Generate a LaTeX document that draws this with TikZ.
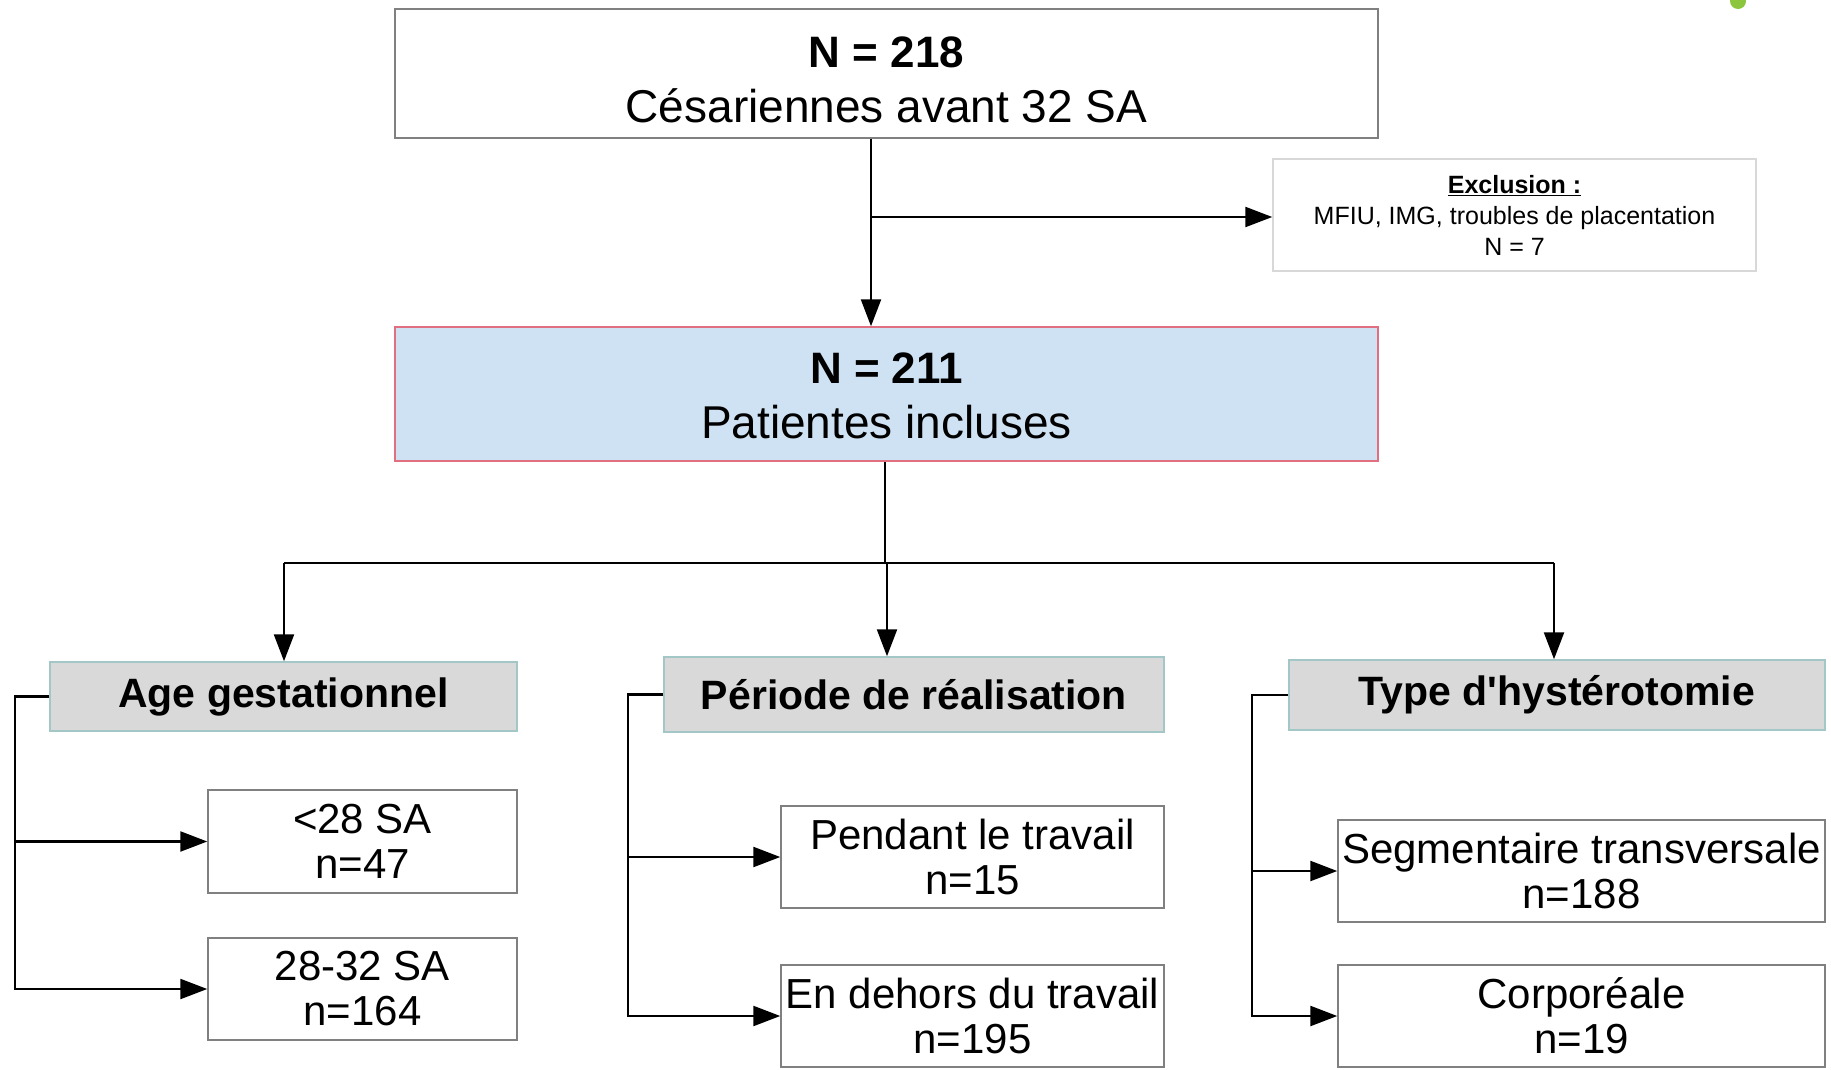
\documentclass[tikz,border=0pt]{standalone}
\usepackage{fontspec}
\setmainfont{Liberation Sans}
\usetikzlibrary{arrows.meta}
\definecolor{boxgray}{HTML}{808080}
\definecolor{blueFill}{HTML}{CFE2F3}
\definecolor{pinkLine}{HTML}{E07080}
\definecolor{catFill}{HTML}{D9D9D9}
\definecolor{catLine}{HTML}{A3C6C6}
\definecolor{exLine}{HTML}{D8D8D8}
\definecolor{dotGreen}{HTML}{8CC63F}
\tikzset{
  basebox/.style={rectangle, inner sep=0pt, align=center, line width=1.5pt},
  topbox/.style={basebox, draw=boxgray, fill=white},
  bigtext/.style={inner sep=0pt, align=center, font=\fontsize{46}{55}\selectfont},
  inclbox/.style={basebox, draw=pinkLine, fill=blueFill},
  exbox/.style={basebox, draw=exLine, fill=white, font=\fontsize{25}{31}\selectfont},
  catbox/.style={basebox, draw=catLine, fill=catFill, font=\bfseries\fontsize{41}{44}\selectfont},
  subbox/.style={basebox, draw=boxgray, fill=white, font=\fontsize{42}{45}\selectfont},
  conn/.style={draw=black, line width=2.4pt},
  arr/.style={conn, -{Triangle[length=27pt,width=20pt]}}
}
\begin{document}
\begin{tikzpicture}[x=1pt,y=-1pt]
\useasboundingbox (0,0) rectangle (1831,1070);
\fill[dotGreen] (1738,1) circle (8);

\node[topbox, minimum width=983, minimum height=129] (top) at (886.5,73.5) {};
\node[bigtext] (toptext) at ([yshift=-6pt]top.center)
  {\textbf{\fontsize{44}{55}\selectfont N = 218}\\Césariennes avant 32 SA};
\node[exbox, minimum width=483, minimum height=112] (excl) at (1514.5,215)
  {\textbf{\underline{Exclusion :}}\\MFIU, IMG, troubles de placentation\\N = 7};
\node[inclbox, minimum width=983, minimum height=134] (incl) at (886.5,394) {};
\node[bigtext] (incltext) at ([yshift=-2pt]incl.center)
  {\textbf{\fontsize{44}{55}\selectfont N = 211}\\Patientes incluses};

\node[catbox, minimum width=467, minimum height=69] (age) at (283.5,696.5) {Age gestationnel};
\node[catbox, minimum width=500, minimum height=75] (per) at (914,694.5) {Période de réalisation};
\node[catbox, minimum width=536, minimum height=70] (typ) at (1557,695) {Type d\textquotesingle hystérotomie};

\node[subbox, minimum width=309, minimum height=103] (lt) at (362.5,841.5) {<28 SA\\n=47};
\node[subbox, minimum width=309, minimum height=102] (gt) at (362.5,989) {28-32 SA\\n=164};
\node[subbox, minimum width=383, minimum height=102] (pend) at (972.5,857) {Pendant le travail\\n=15};
\node[subbox, minimum width=383, minimum height=102] (dehors) at (972.5,1016) {En dehors du travail\\n=195};
\node[subbox, minimum width=487, minimum height=102] (seg) at (1581.5,871) {Segmentaire transversale\\n=188};
\node[subbox, minimum width=487, minimum height=102] (corp) at (1581.5,1016) {Corporéale\\n=19};

% top to included
\coordinate (t1) at ([xshift=-15.5pt]top.south);
\coordinate (j1) at (871,217);
\draw[arr] (t1) -- (t1 |- incl.north);
\draw[arr] (j1) -- (j1 -| excl.west);

% included to categories
\coordinate (i1) at (885,461);
\coordinate (bar) at (885,563);
\coordinate (barL) at (284,563);
\coordinate (barM) at (887,563);
\coordinate (barR) at (1554,563);
\draw[conn] (incl.south -| i1) -- (bar);
\draw[conn] (barL) -- (barR);
\draw[arr] (barL) -- (barL |- age.north);
\draw[arr] (barM) -- (barM |- per.north);
\draw[arr] (barR) -- (barR |- typ.north);

% brackets
\coordinate (ab) at (15,696.5);
\draw[arr] (age.west) -- (ab) |- (gt.west);
\draw[arr] (ab |- lt.west) -- (lt.west);

\coordinate (pb) at (628,694.5);
\draw[arr] (per.west) -- (pb) |- (dehors.west);
\draw[arr] (pb |- pend.west) -- (pend.west);

\coordinate (tb) at (1252,695);
\draw[arr] (typ.west) -- (tb) |- (corp.west);
\draw[arr] (tb |- seg.west) -- (seg.west);
\end{tikzpicture}
\end{document}
